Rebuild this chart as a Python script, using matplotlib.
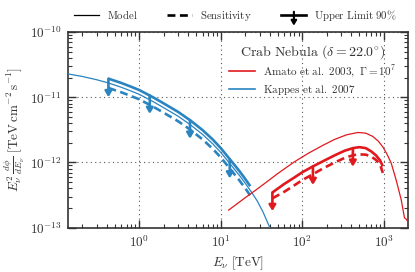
import numpy as np
import matplotlib
matplotlib.use("Agg")
import matplotlib.pyplot as plt
from matplotlib.lines import Line2D
from matplotlib.patches import FancyArrowPatch
from matplotlib.legend_handler import HandlerBase
from matplotlib.ticker import LogLocator, NullFormatter, FixedLocator

plt.rcParams['mathtext.fontset'] = 'cm'
plt.rcParams['font.family'] = 'serif'
plt.rcParams['font.serif'] = ['cmr10', 'DejaVu Serif']
plt.rcParams['axes.formatter.use_mathtext'] = True

# ---------------- data ----------------
# Kappes et al. 2007 model (blue), energies in TeV, log10 of E^2 dphi/dE
kappes_E = [0.136, 0.2, 0.3, 0.42, 0.6, 0.8, 1.0, 1.5, 2.0, 3.0, 4.2, 6.0, 8.0,
            10, 13, 17, 20, 24, 28, 33, 41]
kappes_logF = [-10.643, -10.68, -10.73, -10.78, -10.845, -10.905, -10.954, -11.07,
               -11.16, -11.29, -11.417, -11.57, -11.715, -11.845, -12.02, -12.20,
               -12.32, -12.46, -12.59, -12.76, -13.03]
# Kappes upper limit and sensitivity
kappes_ul_E = [0.42, 0.6, 0.8, 1.0, 1.5, 2.0, 3.0, 4.2, 6.0, 8.0, 10, 13, 17, 20, 23]
kappes_ul_logF = [-10.714, -10.779, -10.839, -10.888, -11.004, -11.094, -11.224,
                  -11.351, -11.504, -11.649, -11.779, -11.954, -12.134, -12.254, -12.364]
kappes_sens_E = [0.42, 0.6, 0.8, 1.0, 1.5, 2.0, 3.0, 4.2, 6.0, 8.0, 10, 13, 17, 20, 23]
kappes_sens_logF = [-10.857, -10.922, -10.982, -11.031, -11.147, -11.237, -11.367,
                    -11.494, -11.647, -11.792, -11.922, -12.097, -12.277, -12.397, -12.507]
kappes_arrow_E = [0.42, 1.35, 4.2, 12.9]
kappes_arrow_logF = [-10.714, -10.97, -11.351, -11.96]

# Amato et al. 2003 model (red)
amato_E = [12.5, 20, 30, 50, 80, 120, 180, 250, 350, 480, 600, 730, 850, 970,
           1100, 1230, 1415, 1630, 1790, 1880, 1950]
amato_logF = [-12.73, -12.54, -12.38, -12.17, -11.99, -11.855, -11.735, -11.645,
              -11.575, -11.54, -11.55, -11.60, -11.67, -11.76, -11.88, -12.01,
              -12.27, -12.57, -12.85, -12.87, -12.90]
amato_ul_E = [43, 60, 80, 100, 135, 180, 250, 330, 417, 500, 600, 700, 800, 900, 970]
amato_ul_logF = [-12.46, -12.33, -12.23, -12.15, -12.06, -11.98, -11.89, -11.82,
                 -11.78, -11.765, -11.78, -11.83, -11.89, -11.97, -12.06]
amato_sens_E = [43, 60, 80, 100, 135, 180, 250, 330, 417, 480, 600, 700, 800, 900, 970]
amato_sens_logF = [-12.55, -12.45, -12.35, -12.27, -12.18, -12.09, -12.0, -11.93,
                   -11.89, -11.875, -11.88, -11.91, -11.96, -12.03, -12.16]
amato_arrow_E = [43, 135, 417]
amato_arrow_logF = [-12.46, -12.06, -11.78]

x_ticks = [1, 10, 100, 1000]
y_ticks = [1e-13, 1e-12, 1e-11, 1e-10]

arrow_drop_dex = 0.285

RED = '#e0191e'
BLUE = '#2a84c0'
TXT = '#333333'
THICK = 1.9
THIN = 0.9
DASH = (3.0, 1.7)
ARROWSTYLE = '-|>,head_length=0.5,head_width=0.3'


def F(vals):
    return 10.0 ** np.asarray(vals)


fig = plt.figure(figsize=(4.15, 2.72), dpi=100)
ax = fig.add_axes([0.165, 0.163, 0.817, 0.719])

for col, mE, mF, uE, uF, sE, sF, aE, aF in [
        (BLUE, kappes_E, kappes_logF, kappes_ul_E, kappes_ul_logF,
         kappes_sens_E, kappes_sens_logF, kappes_arrow_E, kappes_arrow_logF),
        (RED, amato_E, amato_logF, amato_ul_E, amato_ul_logF,
         amato_sens_E, amato_sens_logF, amato_arrow_E, amato_arrow_logF)]:
    ax.plot(mE, F(mF), color=col, lw=THIN, zorder=3)
    ax.plot(uE, F(uF), color=col, lw=THICK, solid_capstyle='butt', zorder=3)
    ax.plot(sE, F(sF), color=col, lw=THICK, dashes=DASH, zorder=3)
    for e, lf in zip(aE, aF):
        ax.annotate('', xy=(e, 10 ** (lf - arrow_drop_dex)), xytext=(e, 10 ** lf),
                    arrowprops=dict(arrowstyle=ARROWSTYLE,
                                    color=col, lw=THICK, mutation_scale=6.5,
                                    shrinkA=0, shrinkB=0), zorder=3)

ax.set_xscale('log')
ax.set_yscale('log')
ax.set_xlim(0.136, 1950)
ax.set_ylim(1e-13, 1e-10)

ax.xaxis.set_major_locator(FixedLocator(x_ticks))
ax.yaxis.set_major_locator(FixedLocator(y_ticks))
ax.xaxis.set_minor_locator(LogLocator(base=10, subs=np.arange(2, 10), numticks=50))
ax.yaxis.set_minor_locator(LogLocator(base=10, subs=np.arange(2, 10), numticks=50))
ax.xaxis.set_minor_formatter(NullFormatter())
ax.yaxis.set_minor_formatter(NullFormatter())

ax.tick_params(which='both', direction='in', top=True, right=True, colors=TXT,
               labelcolor=TXT)
ax.tick_params(which='major', length=6, width=1.0, labelsize=9.5, pad=5)
ax.tick_params(which='minor', length=3, width=0.8)
for s in ax.spines.values():
    s.set_color(TXT)
    s.set_linewidth(1.2)

ax.grid(True, which='major', ls=(0, (1, 3)), color='#555555', lw=0.8)

ax.set_xlabel(r'$E_\nu\ [\mathrm{TeV}]$', fontsize=9.5, color=TXT, labelpad=3)
ax.set_ylabel(r'$E_\nu^2\,\frac{d\phi}{dE_\nu}\ [\mathrm{TeV\,cm^{-2}\,s^{-1}}]$',
              fontsize=9.5, color=TXT, labelpad=2)

# inner legend
h_red = Line2D([], [], color=RED, lw=1.2)
h_blue = Line2D([], [], color=BLUE, lw=1.2)
leg = ax.legend([h_red, h_blue],
                [r'$\mathrm{Amato\ et\ al.\ 2003,\ }\Gamma = 10^7$',
                 r'$\mathrm{Kappes\ et\ al.\ 2007}$'],
                title=r'$\mathrm{Crab\ Nebula\ }(\delta = 22.0^{\circ})$',
                loc='upper right', bbox_to_anchor=(1.0, 1.0), frameon=False,
                fontsize=8, title_fontsize=10, handlelength=2.3,
                labelspacing=0.25, borderpad=0.5, handletextpad=0.8)
for t in leg.get_texts():
    t.set_color(TXT)
leg.get_title().set_color(TXT)


class HandlerUL(HandlerBase):
    def create_artists(self, legend, orig_handle, xdescent, ydescent, width,
                       height, fontsize, trans):
        y = height / 2.0 - ydescent
        ln = Line2D([-xdescent, width - xdescent], [y, y], color='k', lw=THICK,
                    transform=trans)
        xm = width / 2.0 - xdescent
        ar = FancyArrowPatch((xm, y + 2.5), (xm, y - 7.5),
                             arrowstyle=ARROWSTYLE,
                             mutation_scale=5.5, lw=THICK * 0.8, color='k',
                             shrinkA=0, shrinkB=0, transform=trans)
        return [ln, ar]


h_model = Line2D([], [], color='k', lw=THIN)
h_sens = Line2D([], [], color='k', lw=THICK, dashes=DASH)
h_ul = object()
leg2 = fig.legend([h_model, h_sens, h_ul],
                  [r'$\mathrm{Model}$', r'$\mathrm{Sensitivity}$',
                   r'$\mathrm{Upper\ Limit\ 90\%}$'],
                  handler_map={h_ul: HandlerUL()},
                  loc='center', bbox_to_anchor=(0.568, 0.943), ncol=3,
                  frameon=False, fontsize=7.8, handlelength=2.3,
                  columnspacing=2.7, handletextpad=0.75)
for t in leg2.get_texts():
    t.set_color(TXT)

fig.savefig('out.png', dpi=100)
